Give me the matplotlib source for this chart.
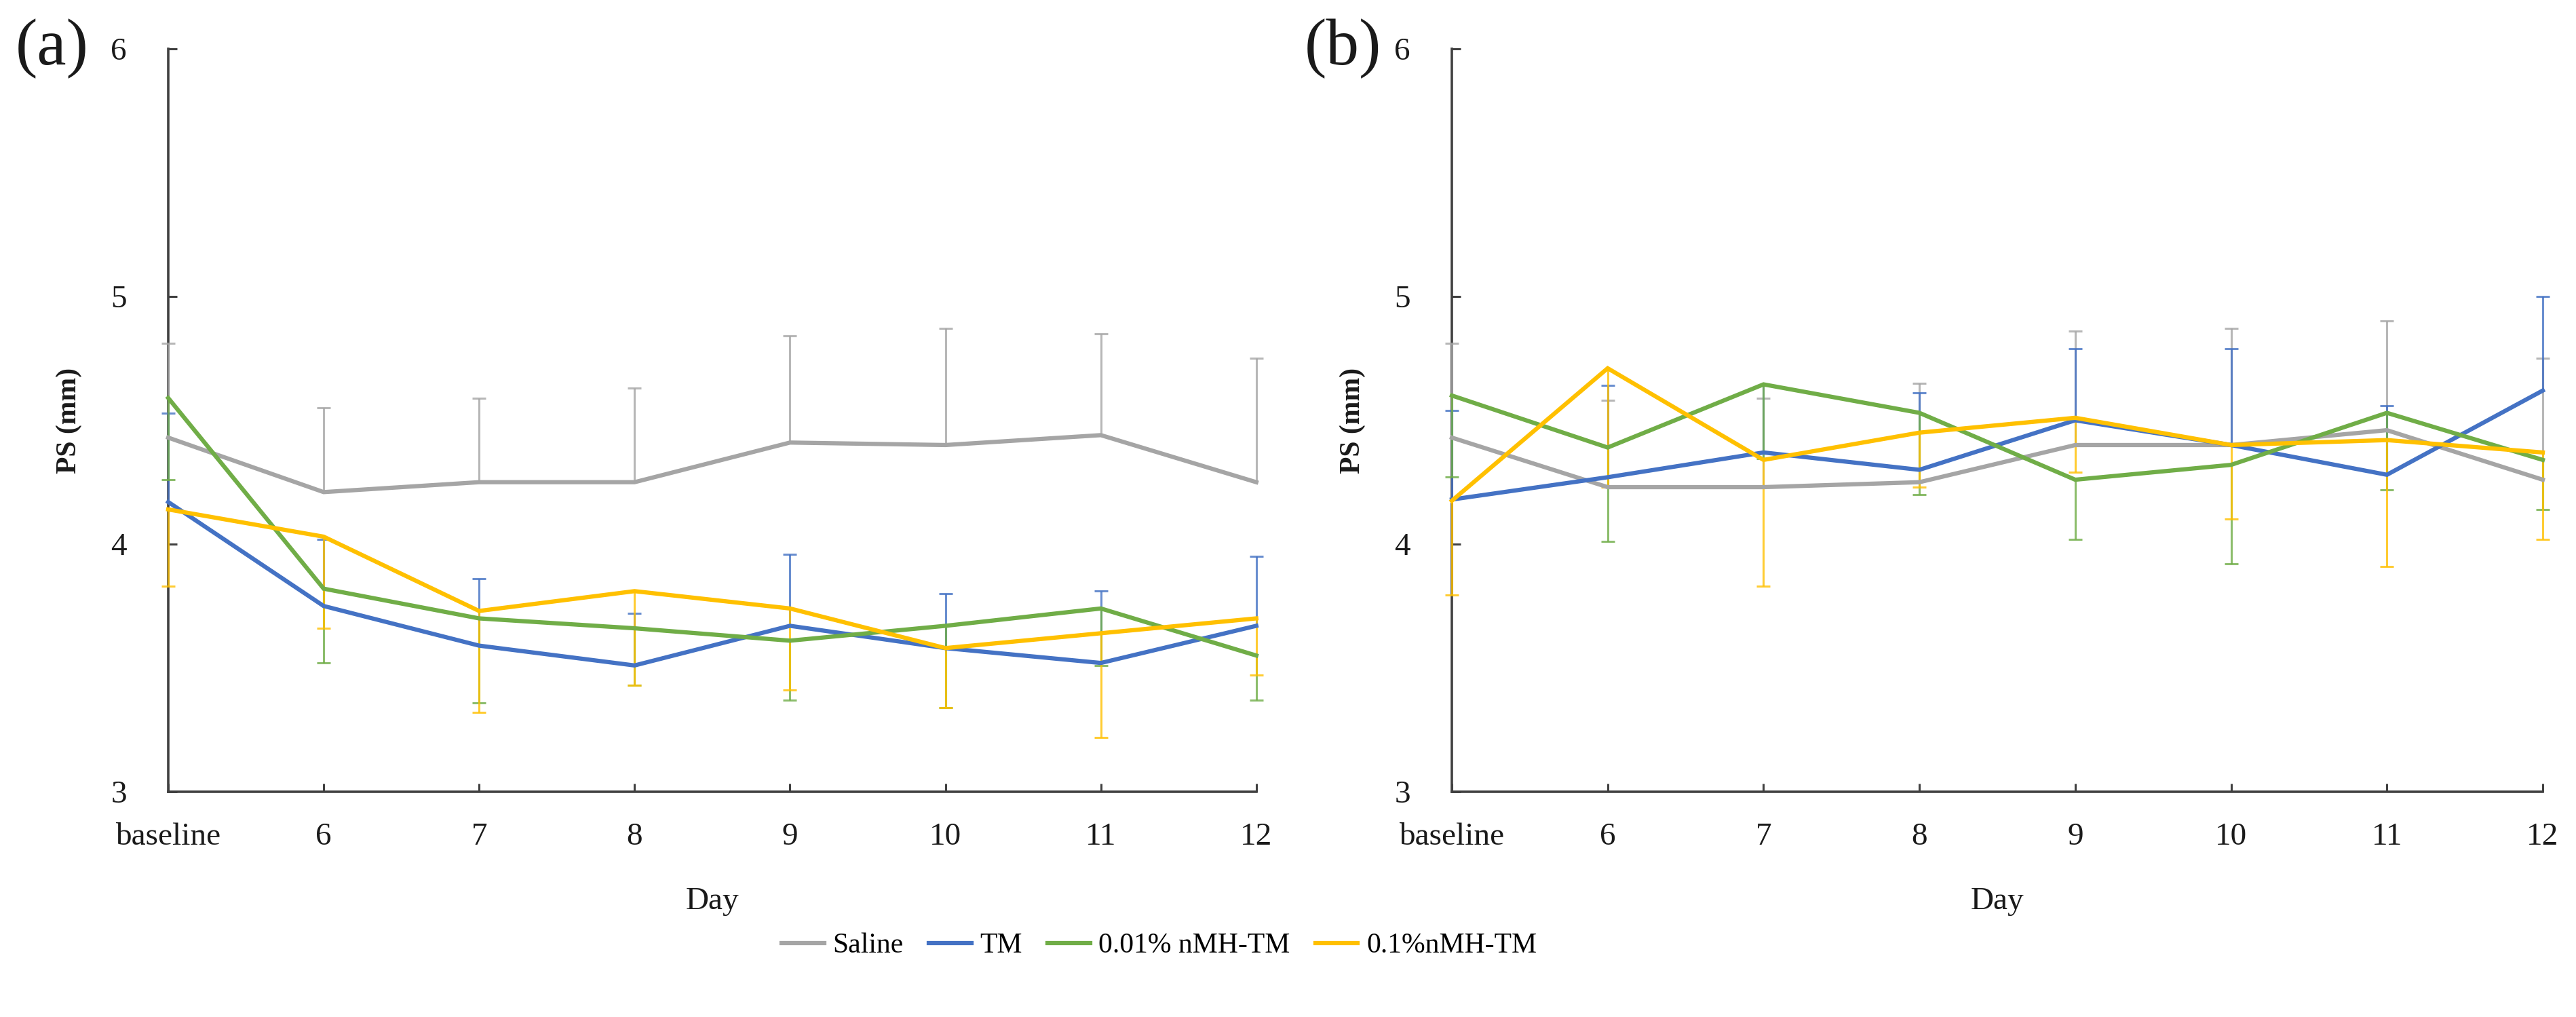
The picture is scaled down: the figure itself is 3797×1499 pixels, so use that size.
import numpy as np
import matplotlib
matplotlib.use('Agg')
import matplotlib.pyplot as plt

# categories
days = ['baseline', '6', '7', '8', '9', '10', '11', '12']
groups = ['Saline', 'TM', '0.01% nMH-TM', '0.1%nMH-TM']
colors = ['#A5A5A5', '#4472C4', '#70AD47', '#FFC000']
# error bar side for each group: +1 upper only, -1 lower only
err_side = [1, 1, -1, -1]

# panel (a)
a_saline = [4.43, 4.21, 4.25, 4.25, 4.41, 4.40, 4.44, 4.25]
a_tm = [4.17, 3.75, 3.59, 3.51, 3.67, 3.58, 3.52, 3.67]
a_low = [4.59, 3.82, 3.70, 3.66, 3.61, 3.67, 3.74, 3.55]
a_high = [4.14, 4.03, 3.73, 3.81, 3.74, 3.58, 3.64, 3.70]
a_saline_err = [0.38, 0.34, 0.34, 0.38, 0.43, 0.47, 0.41, 0.50]
a_tm_err = [0.36, 0.27, 0.27, 0.21, 0.29, 0.22, 0.29, 0.28]
a_low_err = [0.33, 0.30, 0.34, 0.23, 0.24, 0.33, 0.23, 0.18]
a_high_err = [0.31, 0.37, 0.41, 0.38, 0.33, 0.24, 0.42, 0.23]

# panel (b)
b_saline = [4.43, 4.23, 4.23, 4.25, 4.40, 4.40, 4.46, 4.26]
b_tm = [4.18, 4.27, 4.37, 4.30, 4.50, 4.40, 4.28, 4.62]
b_low = [4.60, 4.39, 4.645, 4.53, 4.26, 4.32, 4.53, 4.34]
b_high = [4.175, 4.71, 4.34, 4.45, 4.51, 4.40, 4.42, 4.37]
b_saline_err = [0.38, 0.35, 0.36, 0.40, 0.46, 0.47, 0.44, 0.49]
b_tm_err = [0.36, 0.37, 0.27, 0.31, 0.29, 0.39, 0.28, 0.38]
b_low_err = [0.33, 0.38, 0.30, 0.33, 0.24, 0.40, 0.31, 0.20]
b_high_err = [0.38, 0.48, 0.51, 0.22, 0.22, 0.30, 0.51, 0.35]

panels = [
    ('(a)', [a_saline, a_tm, a_low, a_high], [a_saline_err, a_tm_err, a_low_err, a_high_err]),
    ('(b)', [b_saline, b_tm, b_low, b_high], [b_saline_err, b_tm_err, b_low_err, b_high_err]),
]

plt.rcParams['font.family'] = ['Liberation Serif', 'DejaVu Serif']

fig = plt.figure(figsize=(37.97, 14.99), dpi=100)
axes_pos = [[0.0653, 0.2215, 0.4224, 0.7305], [0.5636, 0.2215, 0.4235, 0.7305]]
tag_x = [0.006, 0.5065]

x = np.arange(len(days))
handles = []
for k, (tag, means, errs) in enumerate(panels):
    ax = fig.add_axes(axes_pos[k])
    for i in range(len(groups)):
        m = np.array(means[i])
        e = np.array(errs[i])
        z = np.zeros_like(e)
        yerr = [z, e] if err_side[i] > 0 else [e, z]
        eb = ax.errorbar(x, m, yerr=yerr, fmt='none', ecolor=colors[i], elinewidth=2.2,
                         capsize=7, capthick=2.2, alpha=0.8, zorder=3)
        for cl in eb[1]:
            cl.set_clip_on(False)
            if np.allclose(cl.get_ydata(), m):
                cl.set_visible(False)
        for bc in eb[2]:
            bc.set_clip_on(False)
        ln, = ax.plot(x, m, color=colors[i], lw=4.5, zorder=4 + i * 0.1,
                      clip_on=False, label=groups[i], solid_joinstyle='miter')
        if k == 0:
            handles.append(ln)

    ax.set_xlim(0, len(days) - 1)
    ax.set_ylim(3, 6)
    ax.set_yticks([3, 4, 5, 6])
    ax.set_xticks(x)
    ax.set_xticklabels(days)
    for s in ['top', 'right']:
        ax.spines[s].set_visible(False)
    for s in ['left', 'bottom']:
        ax.spines[s].set_color('#404040')
        ax.spines[s].set_linewidth(2.6)
    ax.tick_params(axis='both', direction='in', length=9, width=2.2, color='#404040',
                   labelsize=34, labelcolor='#1a1a1a')
    ax.tick_params(axis='y', pad=44)
    ax.tick_params(axis='x', pad=33)
    ax.set_ylabel('PS (mm)', fontsize=30, fontweight='bold', color='#1a1a1a')
    ax.yaxis.set_label_coords(-0.079, 0.5)
    ax.set_xlabel('Day', fontsize=34, color='#1a1a1a')
    ax.xaxis.set_label_coords(0.5, -0.128)
    fig.text(tag_x[k], 0.952, tag, fontsize=70, va='center', ha='left', color='#1a1a1a')

fig.legend(handles=handles, labels=groups, loc='center', bbox_to_anchor=(0.45, 0.07),
           ncol=4, frameon=False, fontsize=30, handlelength=1.5, handletextpad=0.3,
           columnspacing=0.9)

fig.savefig('out.png', dpi=100)
